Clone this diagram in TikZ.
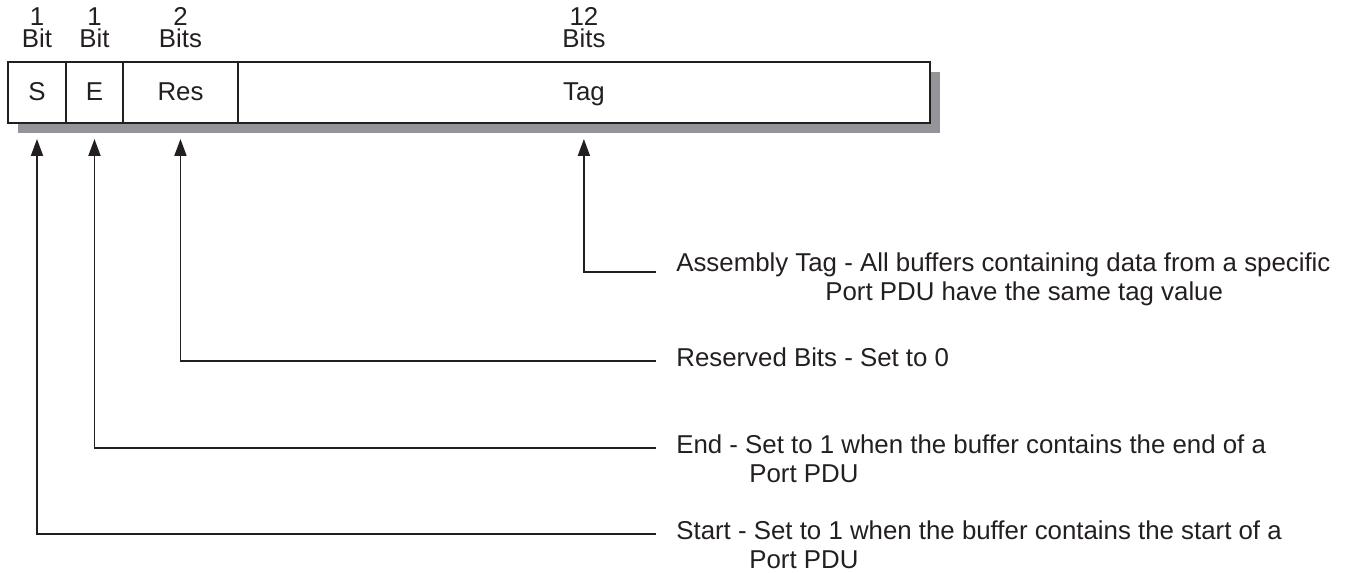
\documentclass[tikz,border=0pt]{standalone}
\usepackage{fontspec}
\setmainfont{Liberation Sans}
\usetikzlibrary{arrows.meta,positioning,calc,backgrounds}
\definecolor{ink}{RGB}{35,31,32}
\definecolor{shadowgray}{RGB}{147,149,152}
\tikzset{
  field/.style ={draw=ink,line width=1.1pt,minimum height=1.22cm,inner sep=0pt,outer sep=0pt,
                 fill=white,text=ink,text height=0.87em,text depth=0pt,
                 font=\fontsize{14.7}{16.5}\selectfont},
  bits/.style  ={align=center,inner sep=0pt,text=ink,font=\fontsize{14.7}{12.6}\selectfont},
  desc/.style  ={inner sep=0pt,text height=0.716em,text depth=0pt,text=ink,
                 font=\fontsize{14.7}{16.5}\selectfont},
  ptr/.style   ={-{Triangle[length=3.4mm,width=2.4mm]},line width=1.1pt,draw=ink},
}

\begin{document}
\begin{tikzpicture}[x=0.02cm,y=-0.02cm,node distance=0pt]
  \useasboundingbox (0,0) rectangle (1363,573);
  % header fields
  \node[field,minimum width=1.16cm,anchor=north west] (s) at (8,62) {S};
  \node[field,minimum width=1.14cm,right=of s]   (e)   {E};
  \node[field,minimum width=2.30cm,right=of e]   (res) {Res};
  \node[field,minimum width=13.84cm,right=of res] (tag) {Tag};
  \begin{scope}[on background layer]
    \fill[shadowgray] ($(s.north west)+(10,10)$) rectangle ($(tag.south east)+(10,10)$);
  \end{scope}
  % field widths
  \node[bits,above=0.28cm of s]   {1\\Bit};
  \node[bits,above=0.28cm of e]   {1\\Bit};
  \node[bits,above=0.28cm of res] {2\\Bits};
  \node[bits,above=0.28cm of tag] {12\\Bits};
  % descriptions
  \node[desc,anchor=base west] (tagA) at (676,272)
    {Assembly Tag - All buffers containing data from a specific};
  \node[desc,anchor=base west] (tagB) at ($(tagA.base west)+(149,29)$)
    {Port PDU have the same tag value};
  \node[desc,anchor=base west] (resA) at (676,367) {Reserved Bits - Set to 0};
  \node[desc,anchor=base west] (endA) at (676,454)
    {End - Set to 1 when the buffer contains the end of a};
  \node[desc,anchor=base west] (endB) at ($(endA.base west)+(73,29)$) {Port PDU};
  \node[desc,anchor=base west] (startA) at (676,540)
    {Start - Set to 1 when the buffer contains the start of a};
  \node[desc,anchor=base west] (startB) at ($(startA.base west)+(73,29)$) {Port PDU};
  % pointers
  \draw[ptr] ([xshift=-4mm]tagA.base west) -| ([yshift=-3.2mm]tag.south);
  \draw[ptr] ([xshift=-4mm]resA.west)      -| ([yshift=-3.2mm]res.south);
  \draw[ptr] ([xshift=-4mm]endA.west)      -| ([yshift=-3.2mm]e.south);
  \draw[ptr] ([xshift=-4mm]startA.west)    -| ([yshift=-3.2mm]s.south);
\end{tikzpicture}
\end{document}
